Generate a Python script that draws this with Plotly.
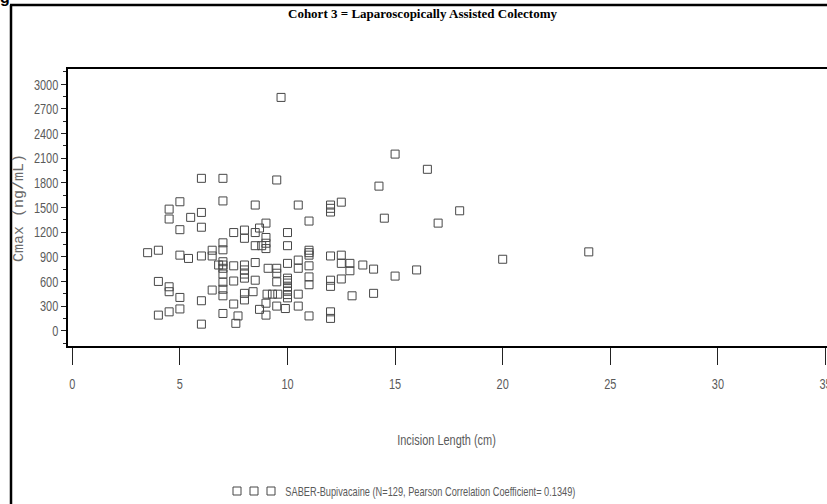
import plotly.graph_objects as go

# Incision length (cm) and Cmax (ng/mL) for each subject in cohort 3
incision_cm = [
    3.5, 4.0, 4.0, 4.0, 4.5, 4.5, 4.5, 4.5, 4.5, 5.0,
    5.0, 5.0, 5.0, 5.0, 5.4, 5.5, 6.0, 6.0, 6.0, 6.0,
    6.0, 6.0, 6.5, 6.5, 6.5, 6.8, 7.0, 7.0, 7.0, 7.0,
    7.0, 7.0, 7.0, 7.0, 7.0, 7.0, 7.0, 7.5, 7.5, 7.5,
    7.5, 7.6, 7.7, 8.0, 8.0, 8.0, 8.0, 8.0, 8.0, 8.0,
    8.4, 8.5, 8.5, 8.5, 8.5, 8.5, 8.7, 8.7, 8.8, 9.0,
    9.0, 9.0, 9.0, 9.0, 9.0, 9.05, 9.1, 9.3, 9.7, 9.5,
    9.5, 9.5, 9.5, 9.55, 9.5, 9.9, 10.0, 10.0, 10.0, 10.0,
    10.0, 10.0, 10.0, 10.0, 10.0, 10.5, 10.5, 10.5, 10.5, 10.5,
    11.0, 11.0, 11.0, 11.0, 11.0, 11.0, 11.0, 12.0, 12.0, 12.0,
    12.0, 12.0, 12.0, 12.0, 12.5, 12.5, 12.5, 12.5, 12.9, 12.9,
    13.0, 13.5, 14.0, 14.0, 14.25, 14.5, 15.0, 15.0, 16.0, 16.5,
    17.0, 18.0, 20.0, 24.0, 8.0, 10.0, 12.0, 7.0, 11.0,
]
cmax_ng_ml = [
    950, 980, 600, 190, 1480, 1360, 535, 475, 230, 1570,
    1230, 920, 405, 265, 880, 1380, 1855, 1440, 1260, 910,
    365, 80, 980, 910, 495, 800, 1855, 1580, 1070, 985,
    840, 760, 690, 590, 505, 425, 210, 1195, 790, 605,
    325, 90, 180, 1225, 1125, 800, 740, 640, 455, 375,
    475, 1530, 1195, 1035, 830, 615, 1250, 260, 1035, 1310,
    1135, 1065, 1000, 335, 190, 445, 760, 445, 2840, 1835,
    760, 700, 595, 445, 300, 270, 1195, 1035, 820, 640,
    580, 530, 480, 440, 400, 1530, 860, 760, 445, 300,
    1335, 980, 920, 790, 655, 560, 180, 1530, 1445, 910,
    615, 540, 230, 150, 1565, 920, 820, 630, 820, 730,
    425, 800, 750, 455, 1760, 1370, 2150, 665, 740, 1965,
    1310, 1460, 870, 960, 690, 610, 1490, 800, 950,
]

x_ticks = [0, 5, 10, 15, 20, 25, 30, 35]
y_ticks = [0, 300, 600, 900, 1200, 1500, 1800, 2100, 2400, 2700, 3000]

title_text = "Cohort 3 = Laparoscopically Assisted Colectomy"
x_title = "Incision Length (cm)"
y_title = "Cmax (ng/mL)"
legend_text = "SABER-Bupivacaine (N=129, Pearson Correlation Coefficient= 0.1349)"
legend_symbols = [0, 1, 2]

W, H = 827, 504
SANS = "Liberation Sans, Arial, sans-serif"
LABEL_GRAY = "#5a5a5a"
MARK = "#474747"
NARROW_SCALE = 0.73   # horizontal squeeze giving the thin, condensed label lettering
LEGEND_SCALE = 0.71


def px_x(p):
    return p / W


def px_y(p):
    return 1 - p / H


marker_style = dict(symbol="square-open", size=8, color=MARK, line=dict(width=1, color=MARK))

fig = go.Figure()
fig.add_trace(go.Scatter(
    x=incision_cm, y=cmax_ng_ml, mode="markers",
    marker=marker_style, showlegend=False, hoverinfo="x+y",
))
# legend key: three square markers in front of the caption
fig.add_trace(go.Scatter(
    x=legend_symbols, y=[0] * len(legend_symbols), mode="markers",
    marker=marker_style, xaxis="x2", yaxis="y2", showlegend=False, hoverinfo="skip",
))

fig.update_layout(
    width=W, height=H,
    margin=dict(l=0, r=0, t=0, b=0, autoexpand=False),
    paper_bgcolor="white", plot_bgcolor="white",
    xaxis=dict(
        domain=[px_x(68), 1.0],
        range=[-0.2, 35.07],
        automargin=False,
        tickvals=x_ticks, ticktext=[str(v) for v in x_ticks],
        ticks="outside", ticklen=17, tickwidth=1, tickcolor="#222",
        showline=True, linecolor="black", linewidth=1.5, mirror=True,
        showgrid=False, zeroline=False,
        tickfont=dict(family=SANS, size=15, color=LABEL_GRAY),
        ticklabelstandoff=6, ticklabeloverflow="allow",
    ),
    yaxis=dict(
        domain=[px_y(346), px_y(69)],
        range=[-186, 3186],
        automargin=False,
        tickvals=y_ticks, ticktext=[str(v) for v in y_ticks],
        ticks="outside", ticklen=5, tickwidth=1, tickcolor="#222",
        minor=dict(dtick=150, tick0=0, ticks="outside", ticklen=3, tickcolor="#222"),
        showline=True, linecolor="black", linewidth=1.5,
        showgrid=False, zeroline=False,
        tickfont=dict(family=SANS, size=15, color=LABEL_GRAY),
    ),
    xaxis2=dict(domain=[px_x(230), px_x(278)], range=[-0.412, 2.412], visible=False,
                anchor="y2", automargin=False),
    yaxis2=dict(domain=[px_y(501), px_y(481)], range=[-1, 1], visible=False,
                anchor="x2", automargin=False),
    shapes=[
        dict(type="line", xref="paper", yref="paper", x0=px_x(10), x1=1.0, y0=px_y(5), y1=px_y(5),
             line=dict(color="black", width=2.5)),
        dict(type="line", xref="paper", yref="paper", x0=px_x(11), x1=px_x(11), y0=px_y(5), y1=0,
             line=dict(color="black", width=2.5)),
    ],
    annotations=[
        dict(text="<b>" + title_text + "</b>", xref="paper", yref="paper",
             x=px_x(422), y=px_y(13), xanchor="center", yanchor="middle", showarrow=False,
             font=dict(family="Liberation Serif, Times New Roman, serif", size=13, color="black")),
        dict(text=x_title, xref="paper", yref="paper",
             x=px_x(447), y=px_y(439), xanchor="center", yanchor="middle", showarrow=False,
             font=dict(family=SANS, size=15, color=LABEL_GRAY)),
        dict(text=y_title, xref="paper", yref="paper", textangle=-90,
             x=px_x(19), y=px_y(208), xanchor="center", yanchor="middle", showarrow=False,
             font=dict(family="Liberation Mono, DejaVu Sans Mono, monospace", size=15, color="#6a6a6a")),
        dict(text=legend_text, xref="paper", yref="paper",
             x=px_x(430), y=px_y(491), xanchor="center", yanchor="middle", showarrow=False,
             font=dict(family=SANS, size=13, color=LABEL_GRAY)),
        dict(text="<b>g</b>", xref="paper", yref="paper",
             x=px_x(5), y=px_y(-3), xanchor="center", yanchor="middle", showarrow=False,
             font=dict(family="Liberation Sans, Arial, sans-serif", size=16, color="black")),
    ],
)

# Squeeze tick labels, the x title and the legend caption horizontally about their anchors
narrow_js = """
var gd = document.getElementById('{plot_id}');
function narrow(sel, s) {
  gd.querySelectorAll(sel).forEach(function (t) {
    var x = parseFloat(t.getAttribute('x')) || 0;
    var tr = t.getAttribute('transform') || '';
    t.setAttribute('transform', tr + ' translate(' + x + ',0) scale(' + s + ',1) translate(' + (-x) + ',0)');
  });
}
narrow('.xtick text', NSCALE);
narrow('.ytick text', NSCALE);
narrow('.annotation[data-index="1"] text', NSCALE);
narrow('.annotation[data-index="3"] text', LSCALE);
""".replace("NSCALE", str(NARROW_SCALE)).replace("LSCALE", str(LEGEND_SCALE))

fig.write_html("out.html", post_script=narrow_js)
